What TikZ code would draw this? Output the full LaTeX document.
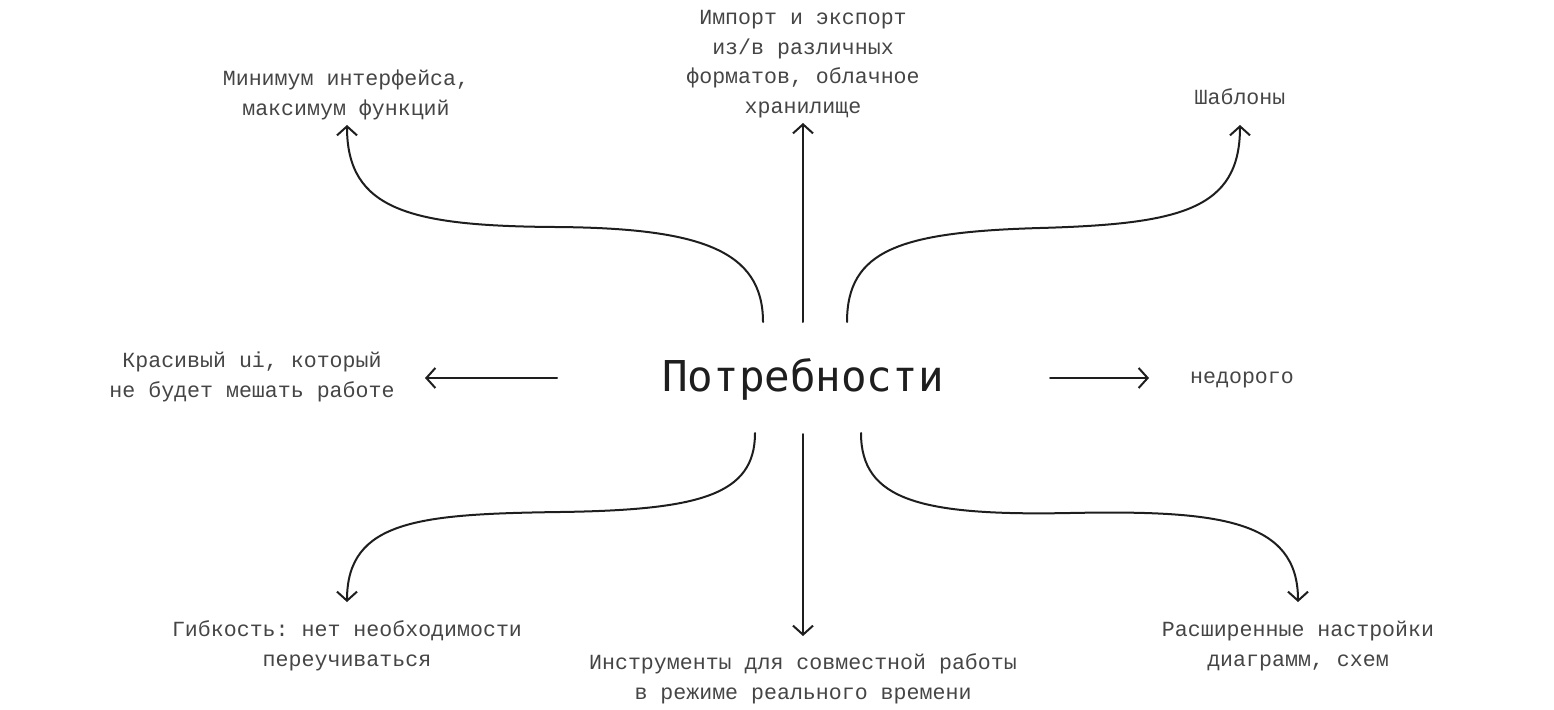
\documentclass[tikz,border=0pt]{standalone}
\usepackage{fontspec}
\setmonofont{Liberation Mono}
\newfontfamily\centerfont{DejaVu Sans Mono}
\usetikzlibrary{arrows.meta}
\definecolor{labelgray}{HTML}{454545}
\definecolor{inkblack}{HTML}{1E1E1E}
\tikzset{
  lbl/.style={font=\ttfamily\fontsize{21.6}{29.5}\selectfont, text=labelgray, align=center, inner sep=0pt},
  hub/.style={font=\centerfont\fontsize{42.5}{50}\selectfont, text=inkblack, inner sep=0pt},
  conn/.style={draw=inkblack, line width=2pt, line cap=round, -{Straight Barb[length=9pt,width=20pt,line width=2pt]}}
}
\begin{document}
\begin{tikzpicture}[x=1pt,y=-1pt]
\useasboundingbox (0,0) rectangle (1554,709);
\node[hub] (c) at (803,379) {Потребности};

\node[lbl] (tl) at (346,95) {Минимум интерфейса,\\максимум функций};
\node[lbl] (tc) at (803,64) {Импорт и экспорт\\из/в различных\\форматов, облачное\\хранилище};
\node[lbl] (tr) at (1240,97) {Шаблоны};
\node[lbl] (l) at (252,377) {Красивый ui, который\\не будет мешать работе};
\node[lbl] (r) at (1242,380) {недорого};
\node[lbl] (bl) at (347,646) {Гибкость: нет необходимости\\переучиваться};
\node[lbl] (bc) at (803,679) {Инструменты для совместной работы\\в режиме реального времени};
\node[lbl] (br) at (1298,646) {Расширенные настройки\\диаграмм, схем};

\coordinate (sL) at (557,378);  \coordinate (eL) at (425,378);
\coordinate (sR) at (1050,378); \coordinate (eR) at (1149,378);
\coordinate (sT) at (803,322);  \coordinate (eT) at (803,123);
\coordinate (sB) at (803,434);  \coordinate (eB) at (803,636);
\coordinate (sTL) at (763,322); \coordinate (mTL) at (555,227); \coordinate (eTL) at (347,125);
\coordinate (sTR) at (847,322); \coordinate (mTR) at (1040,228); \coordinate (eTR) at (1240,125);
\coordinate (sBL) at (755,433); \coordinate (mBL) at (560,512); \coordinate (eBL) at (347,602);
\coordinate (sBR) at (861,433); \coordinate (mBR) at (1070,513); \coordinate (eBR) at (1298,602);

\draw[conn] (sL) -- (eL);
\draw[conn] (sR) -- (eR);
\draw[conn] (sT) -- (eT);
\draw[conn] (sB) -- (eB);
\draw[conn] (sTL) .. controls (763,250) and (700,228) .. (mTL) .. controls (410,226) and (347,210) .. (eTL);
\draw[conn] (sTR) .. controls (847,250) and (900,232) .. (mTR) .. controls (1180,224) and (1240,210) .. (eTR);
\draw[conn] (sBL) .. controls (755,495) and (700,510) .. (mBL) .. controls (420,514) and (347,520) .. (eBL);
\draw[conn] (sBR) .. controls (861,500) and (920,516) .. (mBR) .. controls (1220,510) and (1298,520) .. (eBR);
\end{tikzpicture}
\end{document}
